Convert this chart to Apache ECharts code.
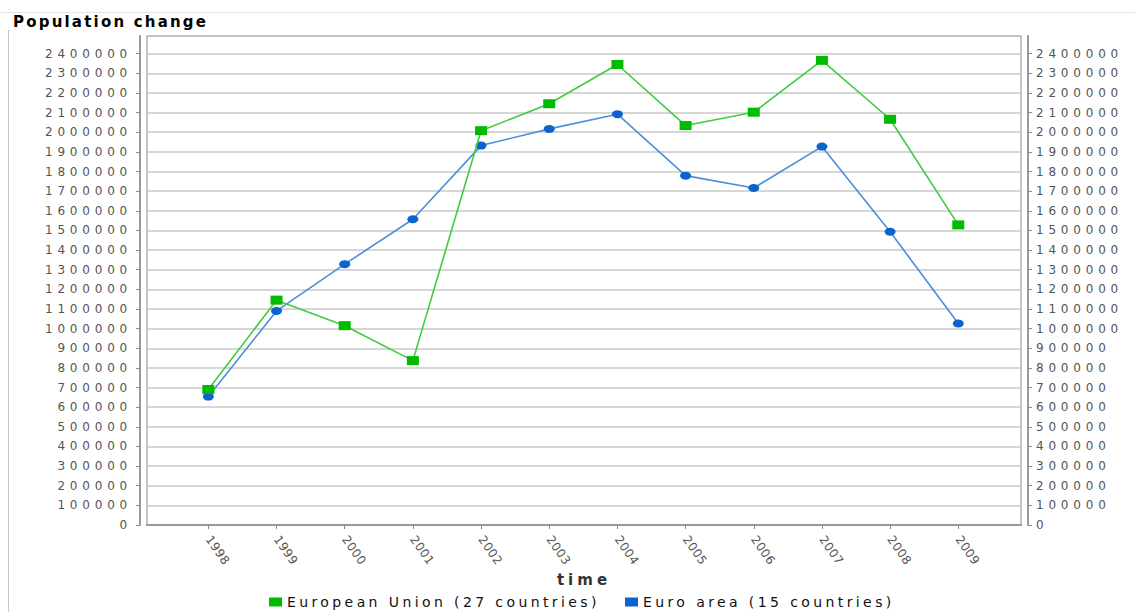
<!DOCTYPE html>
<html>
<head>
<meta charset="utf-8">
<script src="https://cdn.jsdelivr.net/npm/echarts@6/dist/echarts.min.js"></script>
<style>
  html, body { margin: 0; padding: 0; background: #fff; }
  #chart { width: 1135px; height: 612px; }
</style>
</head>
<body>
<div id="chart"></div>
<script>
  // values
  const years = [1998, 1999, 2000, 2001, 2002, 2003, 2004, 2005, 2006, 2007, 2008, 2009]
  const eu27 = [690000, 1145000, 1015000, 837000, 2008000, 2145000, 2345000, 2034000, 2102000, 2366000, 2066000, 1528000]
  const ea15 = [654000, 1090000, 1328000, 1557000, 1932000, 2017000, 2092000, 1779000, 1716000, 1927000, 1493000, 1026000]
  const yTicks = [0, 100000, 200000, 300000, 400000, 500000, 600000, 700000, 800000, 900000, 1000000, 1100000,
    1200000, 1300000, 1400000, 1500000, 1600000, 1700000, 1800000, 1900000, 2000000, 2100000, 2200000, 2300000, 2400000]
  const euName = 'European Union (27 countries)'
  const eaName = 'Euro area (15 countries)'

  const myChart = echarts.init(document.getElementById('chart'), null, { renderer: 'svg' })

  const axisFont = { fontFamily: 'DejaVu Sans', fontSize: 12, color: '#555' }
  const plain = v => String(v)

  const yAxisCommon = {
    type: 'value',
    min: 0,
    max: 2490000,
    interval: 100000,
    offset: 7,
    axisLine: { show: true, lineStyle: { color: '#999', width: 2 } },
    axisTick: { show: true, length: 4, lineStyle: { color: '#888' }, customValues: yTicks },
    axisLabel: Object.assign({ margin: 8, formatter: plain, customValues: yTicks }, axisFont)
  }

  const option = {
    backgroundColor: '#fff',
    animation: false,
    title: {
      text: 'Population change',
      left: 8,
      top: 9,
      textStyle: { fontFamily: 'DejaVu Sans', fontWeight: 'bold', fontSize: 15, color: '#000' }
    },
    graphic: [
      { type: 'line', shape: { x1: 0, y1: 12.5, x2: 1135, y2: 12.5 }, style: { stroke: '#e4e4e4', lineWidth: 1 }, z: -1 },
      { type: 'line', shape: { x1: 8.5, y1: 30, x2: 8.5, y2: 612 }, style: { stroke: '#c8c8c8', lineWidth: 1 }, z: -1 }
    ],
    legend: [
      {
        data: [euName], left: 267, top: 593, icon: 'rect', itemWidth: 13, itemHeight: 9, itemGap: 10, padding: 2,
        textStyle: { fontFamily: 'DejaVu Sans', fontSize: 14, color: '#111' }
      },
      {
        data: [eaName], left: 623, top: 593, icon: 'rect', itemWidth: 13, itemHeight: 9, itemGap: 10, padding: 2,
        textStyle: { fontFamily: 'DejaVu Sans', fontSize: 14, color: '#111' }
      }
    ],
    grid: {
      left: 147, right: 114, top: 36, bottom: 87,
      show: true, borderColor: '#888', borderWidth: 1, backgroundColor: '#fff'
    },
    xAxis: {
      type: 'value',
      min: 1997.1,
      max: 2009.92,
      offset: 5,
      name: 'time',
      nameLocation: 'middle',
      nameGap: 41,
      nameTextStyle: { fontFamily: 'DejaVu Sans', fontWeight: 'bold', fontSize: 15, color: '#333' },
      splitLine: { show: false },
      axisLine: { show: true, lineStyle: { color: '#999', width: 2 } },
      axisTick: { show: true, length: 4, lineStyle: { color: '#888' }, customValues: years },
      axisLabel: Object.assign({ rotate: -55, margin: 7, formatter: plain, customValues: years }, axisFont)
    },
    yAxis: [
      Object.assign({}, yAxisCommon, {
        position: 'left',
        splitLine: { show: true, lineStyle: { color: '#c8c8c8', width: 1.5 } }
      }),
      Object.assign({}, yAxisCommon, { position: 'right', splitLine: { show: false } })
    ],
    series: [
      {
        name: euName,
        type: 'line',
        data: years.map((y, i) => [y, eu27[i]]),
        symbol: 'rect',
        symbolSize: [12, 9],
        itemStyle: { color: '#00bb00' },
        lineStyle: { color: '#3fcc3f', width: 1.6 },
        z: 3
      },
      {
        name: eaName,
        type: 'line',
        data: years.map((y, i) => [y, ea15[i]]),
        symbol: 'path://M0 5 A5 5 0 1 1 10 5 A5 5 0 1 1 0 5 Z',
        symbolSize: [11, 8],
        itemStyle: { color: '#0a64cc' },
        lineStyle: { color: '#4a8fdc', width: 1.6 },
        z: 2
      }
    ]
  }
  myChart.setOption(option)

  // the original text is drawn wide and spaced out
  function spaceText() {
    document.querySelectorAll('#chart text').forEach(t => {
      const s = t.textContent.trim()
      let ls = 0
      if (/^(19|20)\d\d$/.test(s)) ls = 0.5
      else if (/^\d+$/.test(s)) ls = 4.8
      else if (s === 'time') ls = 4
      else if (s === 'Population change') ls = 2.2
      else if (s === euName || s === eaName) ls = 3.4
      if (ls) t.style.letterSpacing = ls + 'px'
    })
  }
  myChart.on('finished', spaceText)
  spaceText()
</script>
</body>
</html>
